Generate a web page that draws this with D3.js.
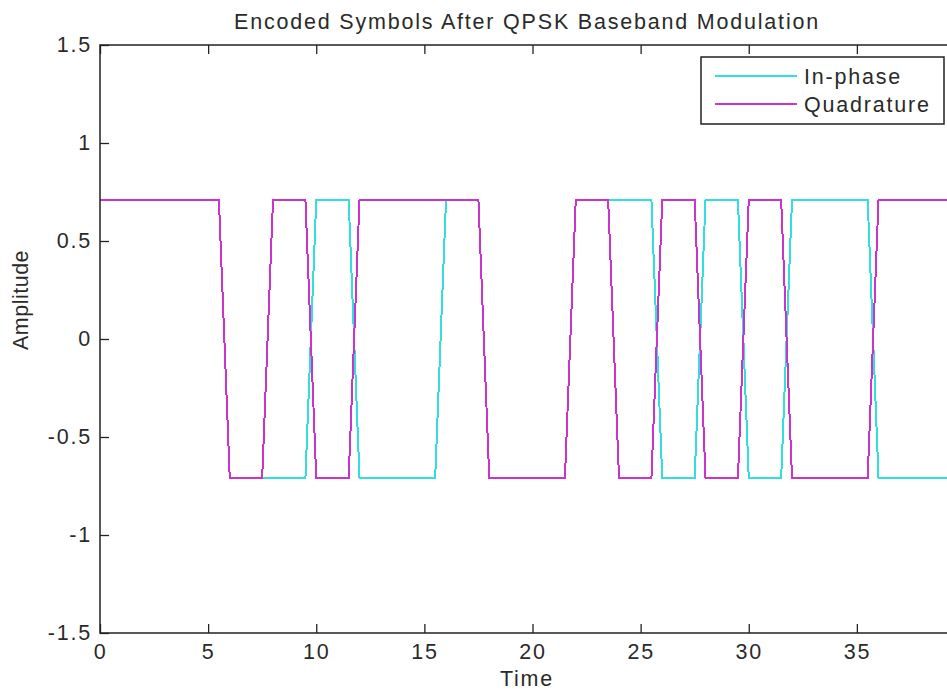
<!DOCTYPE html>
<html>
<head>
<meta charset="utf-8">
<script src="https://cdn.jsdelivr.net/npm/d3@7"></script>
<style>
  body { margin: 0; background: #fff; }
  svg { display: block; }
  text { font-family: "Liberation Sans", Arial, sans-serif; fill: #2a2a2a; letter-spacing: 1.8px; }
</style>
</head>
<body>
<svg id="chart"></svg>
<script>
// symbol start times and QPSK levels (+/- 1/sqrt(2))
const SYMBOL_TIMES = [0, 2, 4, 6, 8, 10, 12, 14, 16, 18, 20, 22, 24, 26, 28, 30, 32, 34, 36, 38];
const IN_PHASE   = [1, 1, 1, -1, -1, 1, -1, -1, 1, -1, -1, 1, 1, -1, 1, -1, 1, 1, -1, -1].map(s => s * 0.7071);
const QUADRATURE = [1, 1, 1, -1, 1, -1, 1, 1, 1, -1, -1, 1, -1, 1, -1, 1, -1, -1, 1, 1].map(s => s * 0.7071);
const END_TIME = 40;
const RAMP = 0.5; // transition time before each symbol boundary

const X_TICKS = [0, 5, 10, 15, 20, 25, 30, 35];
const Y_TICKS = [-1.5, -1, -0.5, 0, 0.5, 1, 1.5];
const SERIES = [
  { name: 'In-phase', values: IN_PHASE, color: '#33dede' },
  { name: 'Quadrature', values: QUADRATURE, color: '#cc33cc' },
];

const WIDTH = 947;
const HEIGHT = 694;
const PLOT = { left: 100, right: 965, top: 45, bottom: 633 };
const FONT = 21.5;

const svg = d3.select('#chart').attr('width', WIDTH).attr('height', HEIGHT);

const xScale = d3.scaleLinear().domain([0, END_TIME]).range([PLOT.left, PLOT.right]);
const yScale = d3.scaleLinear().domain([-1.5, 1.5]).range([PLOT.bottom, PLOT.top]);

// hold each level, then ramp into the next symbol
const toPoints = (values) => {
  const pts = [];
  values.forEach((v, i) => {
    const start = SYMBOL_TIMES[i];
    const next = i + 1 < SYMBOL_TIMES.length ? SYMBOL_TIMES[i + 1] : END_TIME;
    pts.push([start, v]);
    pts.push([i + 1 < values.length ? next - RAMP : next, v]);
  });
  return pts;
};

const line = d3.line().x(d => xScale(d[0])).y(d => yScale(d[1]));

svg.append('g').selectAll('.series')
  .data(SERIES)
  .enter()
  .append('path')
  .attr('class', 'series')
  .attr('d', d => line(toPoints(d.values)))
  .attr('fill', 'none')
  .attr('stroke', d => d.color)
  .attr('stroke-width', 2)
  .attr('shape-rendering', 'crispEdges');

// axes box with inward ticks on all sides
const tickLen = 9;
const plain = d => String(d); // matlab style: "1", "-0.5"
const axisStyle = g => {
  g.select('.domain').remove();
  g.selectAll('.tick line').attr('stroke', '#222').attr('stroke-width', 1.3);
  g.selectAll('.tick text').attr('font-size', FONT).attr('fill', '#2a2a2a')
    .attr('font-family', '"Liberation Sans", Arial, sans-serif');
};

svg.append('g')
  .attr('transform', `translate(0, ${PLOT.bottom})`)
  .call(d3.axisBottom(xScale).tickValues(X_TICKS).tickFormat(plain)
    .tickSizeInner(-tickLen).tickSizeOuter(0).tickPadding(11))
  .call(axisStyle);

svg.append('g')
  .attr('transform', `translate(0, ${PLOT.top})`)
  .call(d3.axisTop(xScale).tickValues(X_TICKS).tickSizeInner(-tickLen).tickSizeOuter(0).tickFormat(''))
  .call(axisStyle);

svg.append('g')
  .attr('transform', `translate(${PLOT.left}, 0)`)
  .call(d3.axisLeft(yScale).tickValues(Y_TICKS).tickFormat(plain)
    .tickSizeInner(-tickLen).tickSizeOuter(0).tickPadding(8))
  .call(axisStyle);

svg.append('g')
  .attr('transform', `translate(${PLOT.right}, 0)`)
  .call(d3.axisRight(yScale).tickValues(Y_TICKS).tickSizeInner(-tickLen).tickSizeOuter(0).tickFormat(''))
  .call(axisStyle);

svg.append('rect')
  .attr('x', PLOT.left).attr('y', PLOT.top)
  .attr('width', PLOT.right - PLOT.left).attr('height', PLOT.bottom - PLOT.top)
  .attr('fill', 'none').attr('stroke', '#222').attr('stroke-width', 1.5);

// titles
svg.append('text')
  .attr('x', 527).attr('y', 29)
  .attr('text-anchor', 'middle').attr('font-size', FONT)
  .text('Encoded Symbols After QPSK Baseband Modulation');

svg.append('text')
  .attr('x', 527).attr('y', 686)
  .attr('text-anchor', 'middle').attr('font-size', FONT)
  .text('Time');

svg.append('text')
  .attr('transform', 'translate(28, 300) rotate(-90)')
  .attr('text-anchor', 'middle').attr('font-size', FONT)
  .style('letter-spacing', '0.5px')
  .text('Amplitude');

// legend
const legend = svg.append('g').attr('transform', 'translate(701, 57)');
legend.append('rect')
  .attr('width', 243).attr('height', 67)
  .attr('fill', '#fff').attr('stroke', '#222').attr('stroke-width', 1.5);

const items = legend.selectAll('.item')
  .data(SERIES)
  .enter()
  .append('g')
  .attr('class', 'item')
  .attr('transform', (d, i) => `translate(0, ${19 + i * 28})`);

items.append('line')
  .attr('x1', 14).attr('x2', 96)
  .attr('stroke', d => d.color).attr('stroke-width', 2);

items.append('text')
  .attr('x', 103).attr('dy', '0.36em').attr('font-size', FONT)
  .text(d => d.name);
</script>
</body>
</html>
